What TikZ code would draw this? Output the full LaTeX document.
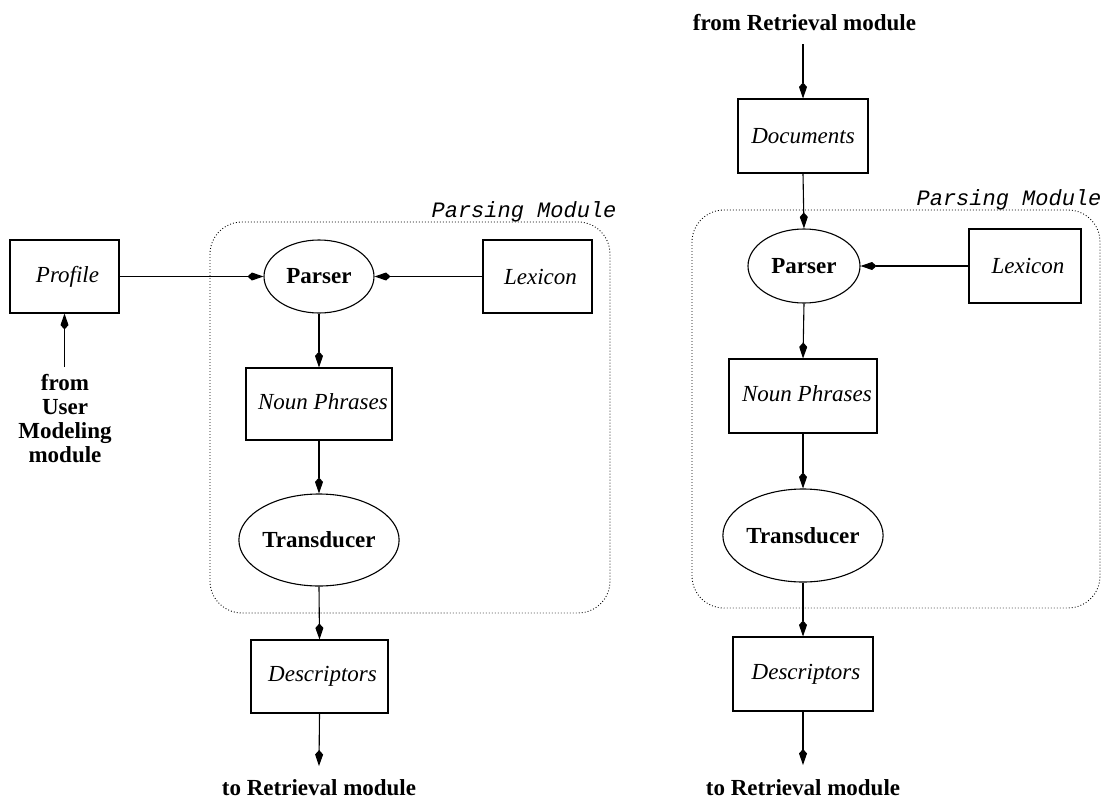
\documentclass[tikz,border=0pt]{standalone}
\usepackage{fontspec}
\setmainfont{Liberation Serif}
\setmonofont{Liberation Mono}
\usetikzlibrary{arrows.meta,shapes.geometric}
\begin{document}
\begin{tikzpicture}[x=1pt,y=-1pt,
  font=\fontsize{23}{24}\selectfont,
  line width=1.1pt,
  arr/.style={-{Kite[length=16pt,width=8pt,inset=4.5pt]}},
  boxnode/.style={draw,rectangle,inner sep=0pt,font=\fontsize{23}{24}\selectfont\itshape},
  ellnode/.style={draw,ellipse,inner sep=0pt,font=\fontsize{23}{24}\selectfont\bfseries},
  plain/.style={inner sep=0pt,font=\fontsize{23}{24}\selectfont\bfseries,align=center},
  modbox/.style={line width=0.9pt,dash pattern=on 0.9pt off 2.1pt,rounded corners=32pt},
  modlabel/.style={inner sep=0pt,anchor=base east,font=\fontsize{22}{23}\selectfont\ttfamily\itshape}]
\useasboundingbox (0,0) rectangle (1109,798);

% ---------------- left diagram ----------------
\draw[modbox] (210,222) rectangle (610,613);
\node[modlabel] (lab1) at (617,217) {Parsing Module};

\node[boxnode,minimum width=109pt,minimum height=73pt] (prof) at (64.5,276.5) {\hspace{6pt}Profile};
\node[ellnode,minimum width=110pt,minimum height=73pt] (parser1) at (319,276.5) {Parser};
\node[boxnode,minimum width=109pt,minimum height=73pt] (lex1) at (537.5,276.5) {\hspace{6pt}Lexicon};
\node[boxnode,minimum width=146pt,minimum height=72pt] (np1) at (319,404) {\raisebox{4pt}{\hspace{8pt}Noun Phrases}};
\node[ellnode,minimum width=146pt,minimum height=92pt] (trans1) at (319,540) {Transducer};
\node[boxnode,minimum width=137pt,minimum height=73pt] (desc1) at (319.5,676.5) {\hspace{6pt}Descriptors};

\node[plain] (fromuser) at (65,419) {from\\User\\Modeling\\module};
\coordinate (fu) at (64.5,367);
\node[plain,anchor=base] (to1) at (319,795) {to Retrieval module};
\coordinate (t1) at (319,766);

\draw[arr] (fu) -- (prof.south);
\draw[arr] (prof.east) -- (parser1.west);
\draw[arr] (lex1.west) -- (parser1.east);
\draw[arr] (parser1.south) -- (np1.north);
\draw[arr] (np1.south) -- (trans1.north);
\draw[arr] (trans1.south) -- (desc1.north);
\draw[arr] (desc1.south) -- (t1);

% ---------------- right diagram ----------------
\draw[modbox] (692,210) rectangle (1100,608);
\node[modlabel] (lab2) at (1102,205) {Parsing Module};

\node[plain,anchor=base] (fromret) at (804.5,30) {from Retrieval module};
\coordinate (fr) at (803,44);
\node[boxnode,minimum width=130pt,minimum height=74pt] (docs) at (803,136) {Documents};
\node[ellnode,minimum width=112pt,minimum height=74pt] (parser2) at (804,266) {Parser};
\node[boxnode,minimum width=112pt,minimum height=74pt] (lex2) at (1025,266) {\hspace{6pt}Lexicon};
\node[boxnode,minimum width=148pt,minimum height=74pt] (np2) at (803,396) {\raisebox{4pt}{\hspace{8pt}Noun Phrases}};
\node[ellnode,minimum width=148pt,minimum height=93pt] (trans2) at (803,535.5) {Transducer};
\node[boxnode,minimum width=140pt,minimum height=74pt] (desc2) at (803,674) {\hspace{6pt}Descriptors};
\node[plain,anchor=base] (to2) at (803,795) {to Retrieval module};
\coordinate (t2) at (803,765);

\draw[arr] (fr) -- (docs.north);
\draw[arr] (docs.south) -- (parser2.north);
\draw[arr] (lex2.west) -- (parser2.east);
\draw[arr] (parser2.south) -- (np2.north);
\draw[arr] (np2.south) -- (trans2.north);
\draw[arr] (trans2.south) -- (desc2.north);
\draw[arr] (desc2.south) -- (t2);
\end{tikzpicture}
\end{document}
